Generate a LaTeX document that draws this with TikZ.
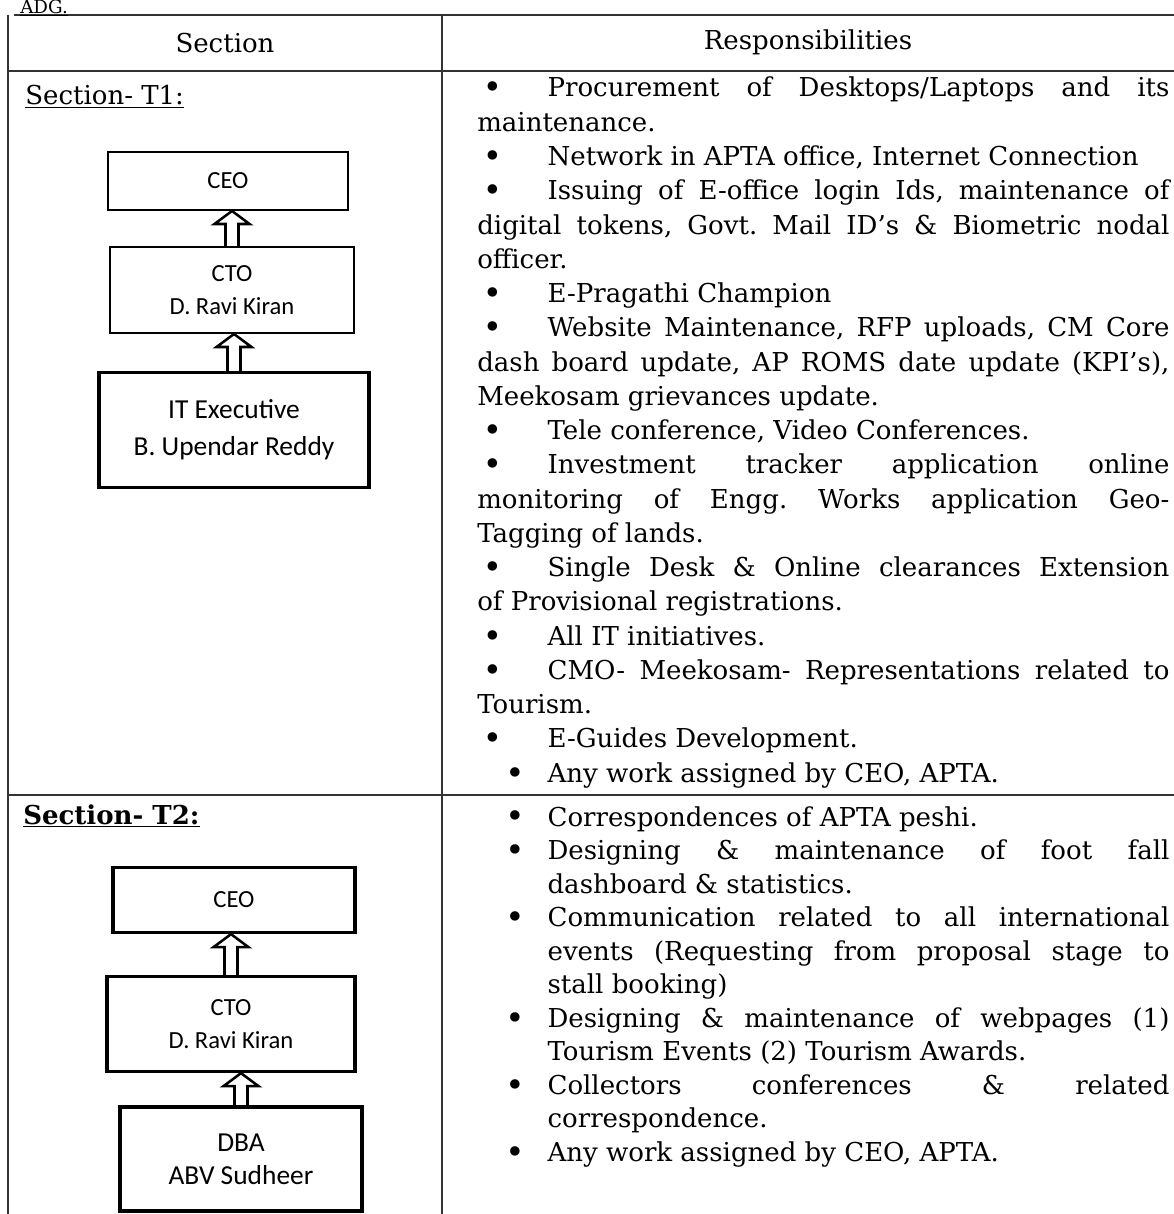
\documentclass[tikz,border=0pt]{standalone}
\usepackage{fontspec}
\usepackage{graphicx}
\setmainfont{DejaVu Serif}
\newfontfamily\boxfont{Carlito}
\usetikzlibrary{positioning,calc}

\frenchspacing
\tolerance=10000
\hyphenpenalty=10000
\exhyphenpenalty=10000

% bullets: first kind hangs out to the left, second kind is indented
\newcommand{\bigbul}{\raisebox{-1.4pt}{\scalebox{1.25}{\textbullet}}}
\newcommand{\bulA}{\noindent\hspace*{4pt}\makebox[46pt][l]{\bigbul}}
\newcommand{\bulB}{\noindent\hangindent=50pt\hangafter=1\hspace*{20pt}\makebox[30pt][l]{\bigbul}}

% hollow up arrow from the lower box to the upper one
\newcommand{\upconn}[2]{%
    \draw[upline] ($(#1.north)+(-6.5,0)$) -- ($(#1.north |- #2.south)+(-6.5,13)$)
        -- ($(#1.north |- #2.south)+(-17.5,13)$) -- (#1.north |- #2.south)
        -- ($(#1.north |- #2.south)+(17.5,13)$) -- ($(#1.north |- #2.south)+(6.5,13)$)
        -- ($(#1.north)+(6.5,0)$);}

\begin{document}
\begin{tikzpicture}[
        x=0.025cm, y=-0.025cm,
        orgbox/.style={
            rectangle,
            draw=black,
            line width=1.4pt,
            align=center,
            font=\boxfont\fontsize{17.5}{24}\selectfont,
            inner sep=2pt
        },
        heavy/.style={
            line width=2.3pt
        },
        colhead/.style={
            font=\fontsize{18.5}{22}\selectfont,
            inner sep=0pt
        },
        sechead/.style={
            anchor=base west,
            font=\fontsize{18.5}{22}\selectfont,
            inner sep=0pt
        },
        resp/.style={
            anchor=base west,
            text width=17.3cm,
            align=justify,
            inner sep=0pt
        },
        rule/.style={
            draw=black!80,
            line width=0.9pt
        },
        upline/.style={
            draw=black,
            line width=1.8pt,
            line join=miter
        }
    ]
        \useasboundingbox (0,0) rectangle (1174,1214);

        % table rules
        \draw[rule] (14,15) -- (1174,15);
        \draw[rule] (8,71) -- (1174,71);
        \draw[rule] (8,795) -- (1174,795);
        \draw[rule] (8,15) -- (8,1214);
        \draw[rule] (442,15) -- (442,1214);

        \node[sechead, font=\fontsize{13}{14}\selectfont] (adg) at (20,13.5) {\underline{ADG.}};

        % header row
        \node[colhead] (hsec) at (225,43) {Section};
        \node[colhead] (hresp) at (808,42) {Responsibilities};

        % Section T1
        \node[sechead] (secA) at (25,105) {\underline{Section- T1:}};
        \node[orgbox] (ceoA) at (228,181) [minimum width=6cm, minimum height=1.45cm] {CEO};
        \node[orgbox] (ctoA) at (232,290) [minimum width=6.1cm, minimum height=2.15cm] {CTO\\D. Ravi Kiran};
        \node[orgbox, heavy, font=\boxfont\fontsize{19.5}{26}\selectfont] (itA) at (234,430)
            [minimum width=6.75cm, minimum height=2.875cm] {IT Executive\\B. Upendar Reddy};
        \upconn{ctoA}{ceoA}
        \upconn{itA}{ctoA}

        \node[resp, font=\fontsize{18.5}{24.36}\selectfont] (respA) at (477,97) {%
            \bulA Procurement of Desktops/Laptops and its\linebreak maintenance.\par
            \bulA Network in APTA office, Internet Connection\par
            \bulA Issuing of E-office login Ids, maintenance of\linebreak digital tokens, Govt. Mail ID’s \& Biometric nodal\linebreak officer.\par
            \bulA E-Pragathi Champion\par
            \bulA Website Maintenance, RFP uploads, CM Core\linebreak dash board update, AP ROMS date update (KPI’s),\linebreak Meekosam grievances update.\par
            \bulA Tele conference, Video Conferences.\par
            \bulA Investment tracker application online\linebreak monitoring of Engg. Works application Geo-\linebreak Tagging of lands.\par
            \bulA Single Desk \& Online clearances Extension\linebreak of Provisional registrations.\par
            \bulA All IT initiatives.\par
            \bulA CMO- Meekosam- Representations related to\linebreak Tourism.\par
            \bulA E-Guides Development.\par
            \bulB Any work assigned by CEO, APTA.};

        % Section T2
        \node[sechead, font=\bfseries\fontsize{18.5}{22}\selectfont] (secB) at (23,824) {\underline{Section- T2:}};
        \node[orgbox, heavy] (ceoB) at (234,900) [minimum width=6.05cm, minimum height=1.625cm] {CEO};
        \node[orgbox, heavy] (ctoB) at (231,1024) [minimum width=6.2cm, minimum height=2.375cm] {CTO\\D. Ravi Kiran};
        \node[orgbox, heavy, font=\boxfont\fontsize{19.5}{23.5}\selectfont] (dbaB) at (241,1159)
            [minimum width=6.05cm, minimum height=2.6cm] {DBA\\ABV Sudheer};
        \upconn{ctoB}{ceoB}
        \upconn{dbaB}{ctoB}

        \node[resp, font=\fontsize{18.5}{23.83}\selectfont] (respB) at (477,826) {%
            \bulB Correspondences of APTA peshi.\par
            \bulB Designing \& maintenance of foot fall\linebreak dashboard \& statistics.\par
            \bulB Communication related to all international\linebreak events (Requesting from proposal stage to\linebreak stall booking)\par
            \bulB Designing \& maintenance of webpages (1)\linebreak Tourism Events (2) Tourism Awards.\par
            \bulB Collectors conferences \& related\linebreak correspondence.\par
            \bulB Any work assigned by CEO, APTA.};
    \end{tikzpicture}
\end{document}
